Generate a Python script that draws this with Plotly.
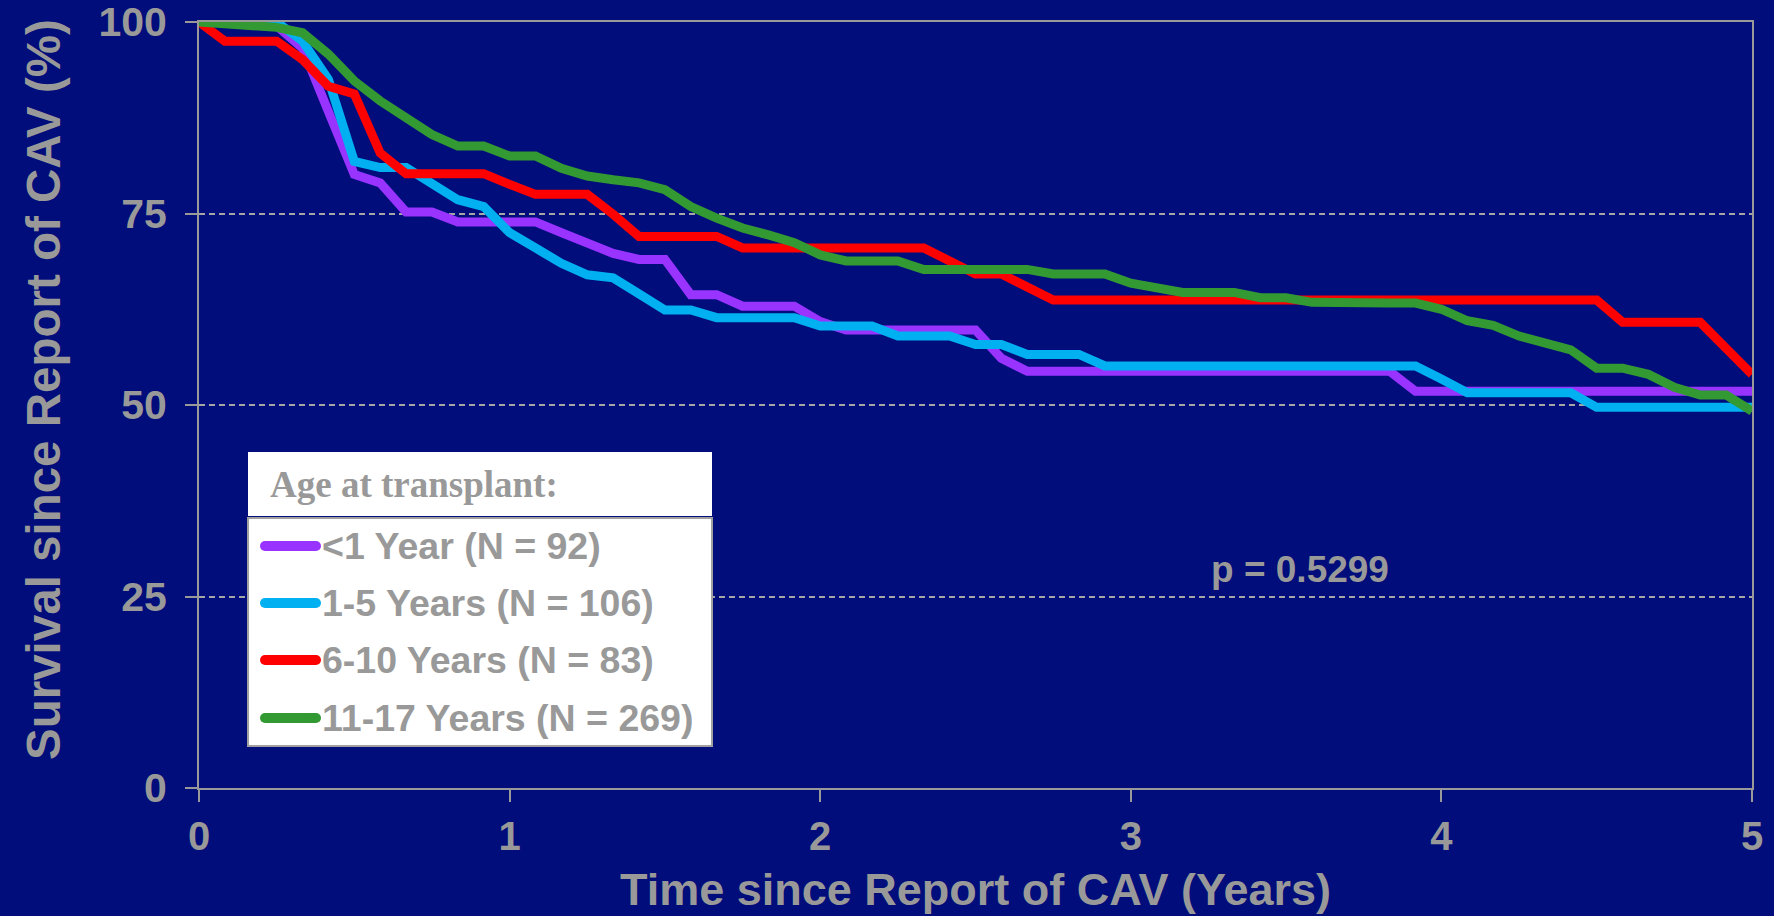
import plotly.graph_objects as go

# Time grid: months since report of CAV (0-60), plotted in years
months = list(range(61))
years = [m / 12 for m in months]

series_names = [
    "<1 Year (N = 92)",
    "1-5 Years (N = 106)",
    "6-10 Years (N = 83)",
    "11-17 Years (N = 269)",
]
series_colors = ["#9933FF", "#00B0F0", "#FF0000", "#339933"]

# Kaplan-Meier survival (%) at each month
surv_lt1 = [
    100, 100, 100, 99.5, 96.6, 88.3, 80.1, 79.0, 75.2, 75.2,
    73.9, 73.9, 73.9, 73.9, 72.5, 71.2, 69.8, 69.0, 69.0, 64.4,
    64.4, 62.9, 62.9, 62.9, 60.9, 59.8, 59.8, 59.8, 59.8, 59.8,
    59.8, 56.1, 54.4, 54.4, 54.4, 54.4, 54.4, 54.4, 54.4, 54.4,
    54.4, 54.4, 54.4, 54.4, 54.4, 54.4, 54.4, 51.8, 51.8, 51.8,
    51.8, 51.8, 51.8, 51.8, 51.8, 51.8, 51.8, 51.8, 51.8, 51.8,
    51.8,
]
surv_1_5 = [
    100, 100, 100, 100, 97.5, 92.5, 81.8, 81.0, 81.0, 78.8,
    76.8, 75.9, 72.5, 70.5, 68.5, 67.0, 66.6, 64.5, 62.4, 62.4,
    61.4, 61.4, 61.4, 61.4, 60.3, 60.3, 60.3, 59.0, 59.0, 59.0,
    57.9, 57.9, 56.6, 56.6, 56.6, 55.1, 55.1, 55.1, 55.1, 55.1,
    55.1, 55.1, 55.1, 55.1, 55.1, 55.1, 55.1, 55.1, 53.4, 51.6,
    51.6, 51.6, 51.6, 51.6, 49.7, 49.7, 49.7, 49.7, 49.7, 49.7,
    49.7,
]
surv_6_10 = [
    100, 97.5, 97.5, 97.5, 95.1, 91.6, 90.6, 82.9, 80.2, 80.2,
    80.2, 80.2, 78.8, 77.5, 77.5, 77.5, 74.9, 72.0, 72.0, 72.0,
    72.0, 70.5, 70.5, 70.5, 70.5, 70.5, 70.5, 70.5, 70.5, 68.8,
    67.1, 67.1, 65.4, 63.7, 63.7, 63.7, 63.7, 63.7, 63.7, 63.7,
    63.7, 63.7, 63.7, 63.7, 63.7, 63.7, 63.7, 63.7, 63.7, 63.7,
    63.7, 63.7, 63.7, 63.7, 63.7, 60.8, 60.8, 60.8, 60.8, 57.4,
    54.0,
]
surv_11_17 = [
    100, 99.8, 99.6, 99.3, 98.6, 95.8, 92.3, 89.7, 87.5, 85.3,
    83.8, 83.8, 82.5, 82.5, 80.9, 79.9, 79.4, 79.0, 78.1, 75.9,
    74.4, 73.1, 72.2, 71.2, 69.6, 68.8, 68.8, 68.8, 67.7, 67.7,
    67.7, 67.7, 67.7, 67.1, 67.1, 67.1, 65.9, 65.4, 64.7, 64.7,
    64.7, 64.0, 64.0, 63.4, 63.3, 63.3, 63.3, 63.3, 62.5, 61.0,
    60.4, 59.0, 58.1, 57.2, 54.8, 54.8, 54.0, 52.3, 51.3, 51.3,
    49.2,
]
all_series = [surv_lt1, surv_1_5, surv_6_10, surv_11_17]

x_ticks = [0, 1, 2, 3, 4, 5]
y_ticks = [0, 25, 50, 75, 100]

x_title = "Time since Report of CAV (Years)"
y_title = "Survival since Report of CAV (%)"
legend_title = "Age at transplant:"
p_value_text = "p = 0.5299"
p_value_pos = (3.545, 28.5)

BG = "#000D7B"
GREY = "#999999"
SANS = "Liberation Sans, Arial, sans-serif"
SERIF = "Liberation Serif, Times New Roman, serif"

W, H = 1774, 916
ML, MR, MT, MB = 199, 22, 22, 128
PW, PH = W - ML - MR, H - MT - MB


def px_x(px):
    """Pixel column -> paper x."""
    return (px - ML) / PW


def px_y(py):
    """Pixel row -> paper y."""
    return (H - MB - py) / PH


fig = go.Figure()
for name, color, vals in zip(series_names, series_colors, all_series):
    fig.add_trace(go.Scatter(
        x=years, y=vals, mode="lines", name=name,
        line=dict(color=color, width=9),
        showlegend=False,
    ))

shapes = []
annotations = []

# Legend: white title panel, then bordered panel holding the entries
shapes.append(dict(type="rect", xref="paper", yref="paper", layer="above",
                   x0=px_x(248), x1=px_x(712), y0=px_y(516), y1=px_y(452),
                   fillcolor="white", line=dict(width=0)))
shapes.append(dict(type="rect", xref="paper", yref="paper", layer="above",
                   x0=px_x(248), x1=px_x(712), y0=px_y(746), y1=px_y(518),
                   fillcolor="white", line=dict(color="#A0A0A0", width=2)))
annotations.append(dict(xref="paper", yref="paper", x=px_x(268), y=px_y(484),
                        xanchor="left", yanchor="middle", showarrow=False,
                        text="<b>" + legend_title + "</b>",
                        font=dict(family=SERIF, size=37, color=GREY)))

row_y = [546, 603, 660, 718]
for name, color, ry in zip(series_names, series_colors, row_y):
    yc = px_y(ry)
    shapes.append(dict(type="line", xref="paper", yref="paper", layer="above",
                       x0=px_x(265), x1=px_x(316), y0=yc, y1=yc,
                       line=dict(color=color, width=10)))
    for cx in (265, 316):
        shapes.append(dict(type="circle", xref="paper", yref="paper", layer="above",
                           xsizemode="pixel", ysizemode="pixel",
                           xanchor=px_x(cx), yanchor=yc,
                           x0=-5, x1=5, y0=-5, y1=5,
                           fillcolor=color, line=dict(width=0)))
    annotations.append(dict(xref="paper", yref="paper", x=px_x(320), y=yc,
                            xanchor="left", yanchor="middle", showarrow=False,
                            text="<b>" + name + "</b>",
                            font=dict(family=SANS, size=37.5, color=GREY)))

annotations.append(dict(xref="x", yref="y", x=p_value_pos[0], y=p_value_pos[1],
                        xanchor="center", yanchor="middle", showarrow=False,
                        text="<b>" + p_value_text + "</b>",
                        font=dict(family=SANS, size=37, color=GREY)))

# Vertical axis title, placed beside the tick labels
annotations.append(dict(xref="paper", yref="paper", x=px_x(44), y=px_y(390),
                        xanchor="center", yanchor="middle", showarrow=False,
                        textangle=-90, text="<b>" + y_title + "</b>",
                        font=dict(family=SANS, size=47.5, color=GREY)))

fig.update_layout(
    width=W, height=H,
    margin=dict(l=ML, r=MR, t=MT, b=MB, autoexpand=False),
    paper_bgcolor=BG, plot_bgcolor=BG,
    font=dict(family=SANS, color=GREY),
    shapes=shapes, annotations=annotations,
)

fig.update_xaxes(
    range=[0, 5], tickvals=x_ticks, ticktext=[str(v) for v in x_ticks],
    showgrid=False, zeroline=False,
    showline=True, linecolor=GREY, linewidth=2, mirror=True,
    ticks="outside", ticklen=12, tickwidth=2, tickcolor=GREY,
    tickfont=dict(family=SANS, size=40, color=GREY, weight="bold"),
    title=dict(text="<b>" + x_title + "</b>",
               font=dict(family=SANS, size=45, color=GREY), standoff=16),
    automargin=False,
)
fig.update_yaxes(
    range=[0, 100], tickvals=y_ticks, ticktext=[str(v) for v in y_ticks],
    showgrid=True, gridcolor="#A6A6A6", gridwidth=1.5, griddash="6px,4px",
    zeroline=False,
    showline=True, linecolor=GREY, linewidth=2, mirror=True,
    ticks="outside", ticklen=12, tickwidth=2, tickcolor=GREY,
    ticklabelstandoff=10, ticklabeloverflow="allow",
    tickfont=dict(family=SANS, size=41, color=GREY, weight="bold"),
    automargin=False,
)

fig.write_html("out.html")
